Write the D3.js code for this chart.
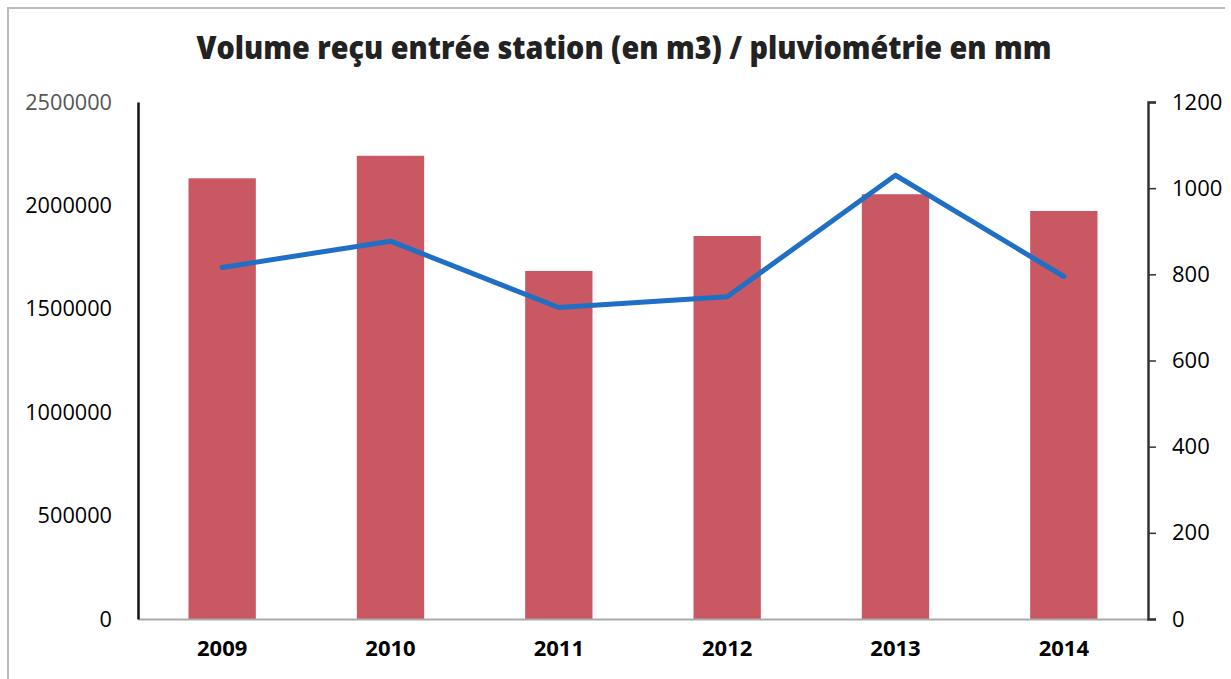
<!DOCTYPE html>
<html>
<head>
<meta charset="utf-8">
<script src="https://cdn.jsdelivr.net/npm/d3@7"></script>
<style>
  body { margin: 0; background: #fff; }
  text { font-family: "Open Sans", "Liberation Sans", sans-serif; }
</style>
</head>
<body>
<script>
var years = ["2009", "2010", "2011", "2012", "2013", "2014"];
var volume = [2131000, 2240000, 1683000, 1852000, 2054000, 1973000];
var pluvio = [816, 877, 723, 748, 1030, 795];
var leftTicks = [0, 500000, 1000000, 1500000, 2000000, 2500000];
var rightTicks = [0, 200, 400, 600, 800, 1000, 1200];

var width = 1231, height = 679;
var m = {left: 138, right: 1148, top: 102, bottom: 619};

var svg = d3.select("body").append("svg")
  .attr("width", width)
  .attr("height", height);

// faint scan frame
svg.append("path")
  .attr("d", "M8,679 L8,8 L1225,8")
  .style("fill", "none")
  .style("stroke", "#bbb")
  .style("stroke-width", 2);

var x = d3.scaleBand()
  .domain(years)
  .range([m.left, m.right])
  .paddingInner(0.6)
  .paddingOuter(0.3);

var yL = d3.scaleLinear().domain([0, 2500000]).range([m.bottom, m.top]);
var yR = d3.scaleLinear().domain([0, 1200]).range([m.bottom, m.top]);

svg.append("text")
  .attr("x", 624)
  .attr("y", 59)
  .attr("text-anchor", "middle")
  .attr("textLength", 855)
  .attr("lengthAdjust", "spacingAndGlyphs")
  .style("font-size", "32px")
  .style("font-weight", "800")
  .style("fill", "#222")
  .text("Volume reçu entrée station (en m3) / pluviométrie en mm");

// bars
svg.selectAll("rect.bar")
  .data(years)
  .enter().append("rect")
  .attr("class", "bar")
  .attr("x", function(d) { return x(d); })
  .attr("width", x.bandwidth())
  .attr("y", function(d, i) { return yL(volume[i]); })
  .attr("height", function(d, i) { return m.bottom - yL(volume[i]); })
  .style("fill", "#c95862");

// x axis baseline
var xAxis = svg.append("g")
  .attr("transform", "translate(0," + m.bottom + ")")
  .call(d3.axisBottom(x).tickSize(0).tickPadding(21));
xAxis.select(".domain").style("stroke", "#aaa").style("stroke-width", 2);
xAxis.selectAll("text")
  .style("font-size", "22px")
  .style("font-weight", "bold")
  .style("fill", "#000");

// left axis
var left = svg.append("g")
  .attr("transform", "translate(" + m.left + ",0)")
  .call(d3.axisLeft(yL).tickValues(leftTicks).tickSize(0).tickPadding(26)
    .tickFormat(d3.format("d")));
left.select(".domain").style("stroke", "#111").style("stroke-width", 2.5);
left.selectAll("text")
  .style("font-size", "22px")
  .attr("textLength", function(d) { return String(d).length * 12.4; })
  .attr("lengthAdjust", "spacingAndGlyphs")
  .style("fill", function(d) { return d === 2500000 ? "#555" : "#000"; });

// right axis
var right = svg.append("g")
  .attr("transform", "translate(" + m.right + ",0)")
  .call(d3.axisRight(yR).tickValues(rightTicks).tickSize(8).tickPadding(16)
    .tickFormat(d3.format("d")));
right.select(".domain").style("stroke", "#333").style("stroke-width", 2.5);
right.selectAll("line").style("stroke", "#333").style("stroke-width", 1.5);
right.selectAll("text")
  .style("font-size", "22px")
  .style("fill", "#000");

// rainfall line
var line = d3.line()
  .x(function(d, i) { return x(years[i]) + x.bandwidth() / 2; })
  .y(function(d) { return yR(d); });

svg.append("path")
  .datum(pluvio)
  .attr("d", line)
  .style("fill", "none")
  .style("stroke", "#1f6fc5")
  .style("stroke-width", 5)
  .style("stroke-linejoin", "round")
  .style("stroke-linecap", "round");
</script>
</body>
</html>
